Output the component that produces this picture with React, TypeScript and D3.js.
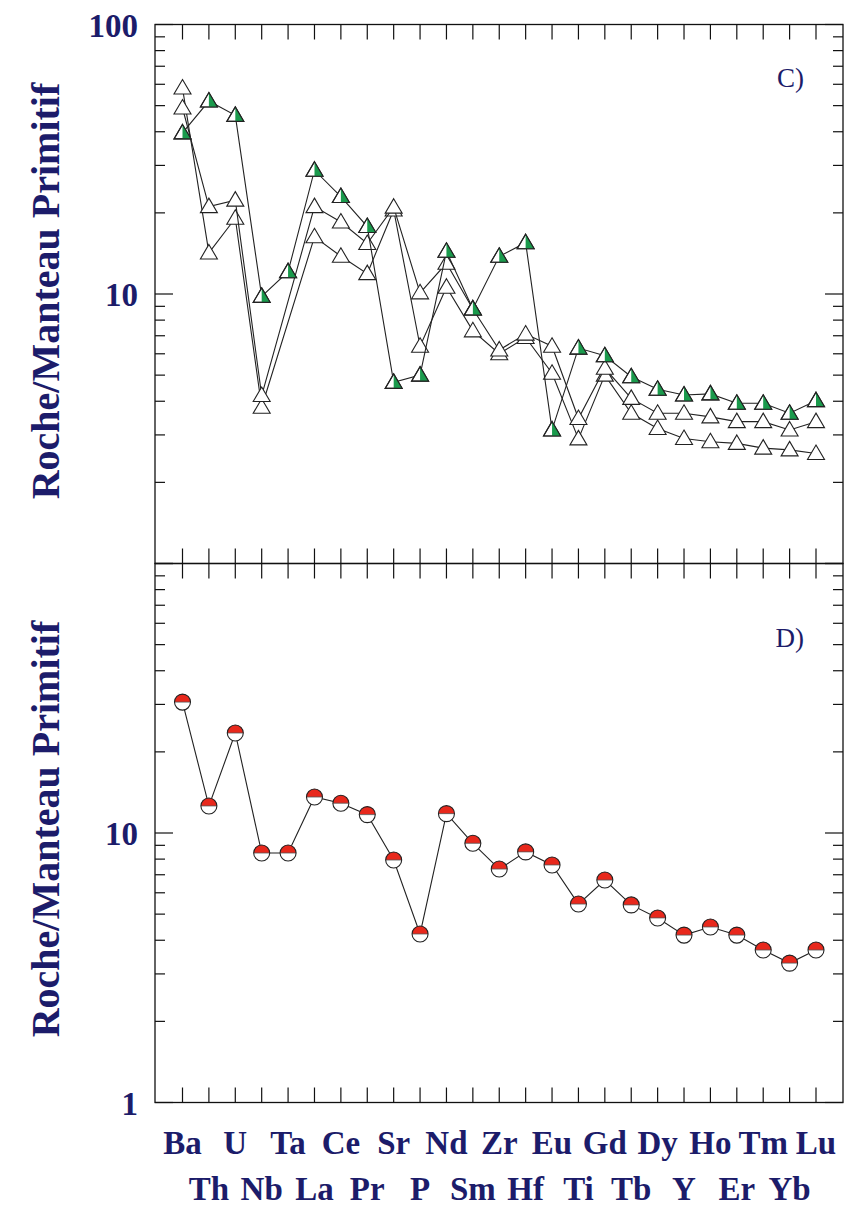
import React from "react";
import * as d3 from "d3";

// Trace elements, in spider-diagram order (primitive-mantle normalised)
const elements = [
  "Ba", "Th", "U", "Nb", "Ta", "La", "Ce", "Pr", "Sr", "P", "Nd", "Sm", "Zr",
  "Hf", "Eu", "Ti", "Gd", "Tb", "Dy", "Y", "Ho", "Er", "Tm", "Yb", "Lu",
];

// Panel C: three samples (one plotted with green half-filled triangles)
const sampleC1: (number | null)[] = [
  39.6, 52, 46, 9.8, 12.1, 28.8, 23.0, 17.8, 4.7, 5.0, 14.4, 8.8, 13.8,
  15.5, 3.13, 6.3, 5.9, 4.93, 4.43, 4.22, 4.26, 3.93, 3.93, 3.61, 4.02,
];
const sampleC2: (number | null)[] = [
  49.0, 21.1, 22.3, 4.2, null, 21.1, 18.5, 15.4, 21.0, 10.1, 13.0, 8.8, 6.2,
  7.1, 6.4, 3.45, 5.3, 4.1, 3.61, 3.61, 3.5, 3.36, 3.36, 3.13, 3.36,
];
const sampleC3: (number | null)[] = [
  58.1, 14.2, 19.1, 3.8, null, 16.3, 13.8, 11.9, 20.5, 6.4, 10.6, 7.3, 6.0,
  6.9, 5.08, 2.9, 5.0, 3.61, 3.17, 2.91, 2.83, 2.79, 2.68, 2.64, 2.56,
];

// Panel D: one sample (half red circles)
const sampleD: number[] = [
  30.6, 12.6, 23.5, 8.43, 8.43, 13.6, 12.9, 11.7, 7.94, 4.22, 11.8, 9.16, 7.35,
  8.51, 7.61, 5.45, 6.69, 5.41, 4.84, 4.18, 4.48, 4.18, 3.68, 3.29, 3.68,
];

const topTickLabels = ["100", "10"];
const bottomTickLabels = ["10", "1"];
const yTitle = "Roche/Manteau Primitif";

const W = 847;
const H = 1206;
const left = 155;
const right = 843;
const panelTop = 24.5;
const panelMid = 563.5;
const panelBottom = 1102.5;

const navy = "#1c1c6a";
const green = "#1a9a4c";
const red = "#e8281c";
const ink = "#222";

const x = d3.scalePoint<string>().domain(elements).range([182.5, 816]);
const yC = d3.scaleLog().domain([1, 100]).range([panelMid, panelTop]);
const yD = d3.scaleLog().domain([1, 100]).range([panelBottom, panelMid]);

type Pt = { el: string; v: number };

function pts(vals: (number | null)[]): Pt[] {
  return elements
    .map((el, i) => ({ el, v: vals[i] as number }))
    .filter((d) => d.v != null);
}

function Frame({ y0, y1, scale }: { y0: number; y1: number; scale: d3.ScaleLogarithmic<number, number> }) {
  const yt = scale.ticks();
  return (
    <g>
      <rect x={left} y={y0} width={right - left} height={y1 - y0} fill="none" stroke="#111" strokeWidth={1.3} />
      {elements.map((el) => (
        <g key={el}>
          <line x1={x(el)} x2={x(el)} y1={y0} y2={y0 + 15} stroke="#111" strokeWidth={1.2} />
          <line x1={x(el)} x2={x(el)} y1={y1} y2={y1 - 15} stroke="#111" strokeWidth={1.2} />
        </g>
      ))}
      {yt.map((t, i) => {
        const major = Math.abs(Math.log10(t) - Math.round(Math.log10(t))) < 1e-9;
        const len = major ? 18 : 10;
        const yy = scale(t);
        return (
          <g key={i}>
            <line x1={left} x2={left + len} y1={yy} y2={yy} stroke="#111" strokeWidth={1.2} />
            <line x1={right} x2={right - len} y1={yy} y2={yy} stroke="#111" strokeWidth={1.2} />
          </g>
        );
      })}
    </g>
  );
}

const triPath = "M0,-8.5L8.5,6L-8.5,6Z";
const triHalf = "M0,-8.5L8.5,6L0,6Z";

function TriangleSeries({ vals, filled }: { vals: (number | null)[]; filled: boolean }) {
  const data = pts(vals);
  const line = d3
    .line<Pt>()
    .x((d) => x(d.el) as number)
    .y((d) => yC(d.v));
  return (
    <g>
      <path d={line(data) || ""} fill="none" stroke={ink} strokeWidth={1.1} />
      {data.map((d) => (
        <g key={d.el} transform={`translate(${x(d.el)},${yC(d.v)})`}>
          <path d={triPath} fill="#fff" stroke={ink} strokeWidth={1.1} />
          {filled && <path d={triHalf} fill={green} stroke="none" />}
          {filled && <path d={triPath} fill="none" stroke={ink} strokeWidth={1.1} />}
        </g>
      ))}
    </g>
  );
}

function CircleSeries({ vals }: { vals: number[] }) {
  const data = pts(vals);
  const line = d3
    .line<Pt>()
    .x((d) => x(d.el) as number)
    .y((d) => yD(d.v));
  const r = 8;
  const topHalf = d3.arc()({ innerRadius: 0, outerRadius: r, startAngle: -Math.PI / 2, endAngle: Math.PI / 2 }) || "";
  return (
    <g>
      <path d={line(data) || ""} fill="none" stroke={ink} strokeWidth={1.1} />
      {data.map((d) => (
        <g key={d.el} transform={`translate(${x(d.el)},${yD(d.v)})`}>
          <circle r={r} fill="#fff" />
          <path d={topHalf} fill={red} />
          <line x1={-r} x2={r} y1={0} y2={0} stroke="#555" strokeWidth={0.8} />
          <circle r={r} fill="none" stroke={ink} strokeWidth={1.1} />
        </g>
      ))}
    </g>
  );
}

const serif = "'Liberation Serif', 'Times New Roman', 'DejaVu Serif', serif";

export default function App() {
  return (
    <svg
      width={W}
      height={H}
      viewBox={`0 0 ${W} ${H}`}
      style={{ position: "absolute", left: 0, top: 0, background: "#fff" }}
    >
      <rect width={W} height={H} fill="#fff" />
      <Frame y0={panelTop} y1={panelMid} scale={yC} />
      <Frame y0={panelMid} y1={panelBottom} scale={yD} />

      <TriangleSeries vals={sampleC3} filled={false} />
      <TriangleSeries vals={sampleC2} filled={false} />
      <TriangleSeries vals={sampleC1} filled={true} />
      <CircleSeries vals={sampleD} />

      {/* y tick labels */}
      <g fontFamily={serif} fontWeight="bold" fontSize={33} fill={navy} textAnchor="end">
        {topTickLabels.map((t) => (
          <text key={"c" + t} x={138} y={yC(+t) + 12}>{t}</text>
        ))}
        {bottomTickLabels.map((t) => (
          <text key={"d" + t} x={138} y={yD(+t) + 12}>{t}</text>
        ))}
      </g>

      {/* y axis titles */}
      <g fontFamily={serif} fontWeight="bold" fontSize={40} fill={navy} textAnchor="middle">
        <text transform={`translate(59,291) rotate(-90)`}>{yTitle}</text>
        <text transform={`translate(59,829) rotate(-90)`}>{yTitle}</text>
      </g>

      {/* panel letters */}
      <g fontFamily={serif} fontSize={27} fill={navy} textAnchor="end">
        <text x={804} y={87}>C)</text>
        <text x={804} y={647}>D)</text>
      </g>

      {/* element labels, alternating over two rows */}
      <g fontFamily={serif} fontWeight="bold" fontSize={33} fill={navy} textAnchor="middle">
        {elements.map((el, i) => (
          <text
            key={el}
            transform={`translate(${x(el)},${i % 2 === 0 ? 1154 : 1200}) scale(1,1.05)`}
          >
            {el}
          </text>
        ))}
      </g>
    </svg>
  );
}
